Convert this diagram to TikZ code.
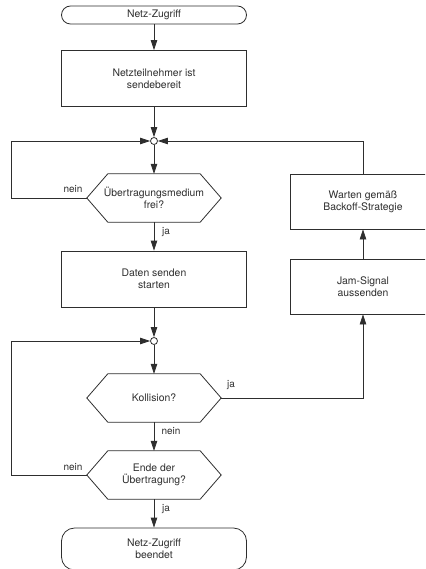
\documentclass[tikz,border=0pt]{standalone}
\usepackage{fontspec}
\setmainfont{TeX Gyre Heros}
\usetikzlibrary{arrows.meta,calc}
\definecolor{ink}{HTML}{2E2E2E}
\newcommand\hexdraw[1]{%
  \draw[line] (#1.west) -- ([xshift=21pt]#1.north west) -- ([xshift=-21pt]#1.north east)
    -- (#1.east) -- ([xshift=-21pt]#1.south east) -- ([xshift=21pt]#1.south west) -- cycle;}
\begin{document}
\begin{tikzpicture}[x=1pt,y=-1pt,
  font=\fontsize{10.4}{12.2}\selectfont, text=ink,
  line/.style={draw=ink,line width=0.8pt},
  arr/.style={line,-{Triangle[length=10pt,width=6.5pt]}},
  box/.style={line,rectangle,minimum width=185pt,minimum height=56pt,inner sep=0pt,align=center},
  sidebox/.style={line,rectangle,minimum width=146pt,minimum height=55pt,inner sep=0pt,align=center},
  term/.style={line,rectangle,rounded corners=9pt,minimum width=185pt,minimum height=18pt,inner sep=0pt,align=center},
  termb/.style={line,rectangle,rounded corners=13pt,minimum width=185pt,minimum height=42pt,inner sep=0pt,align=center},
  hexnode/.style={rectangle,minimum width=134pt,minimum height=48pt,inner sep=0pt,align=center},
  junc/.style={line,circle,fill=white,minimum size=7pt,inner sep=0pt},
  lbl/.style={inner sep=0pt,font=\fontsize{10}{12}\selectfont}]
\useasboundingbox (0,0) rectangle (425,569);
\clip (0,0) rectangle (425,569);
% nodes
\node[term] (start) at (154,15) {Netz-Zugriff};
\node[box] (b1) at (154,78.5) {Netzteilnehmer ist\\sendebereit};
\node[junc] (j1) at (154,141) {};
\node[hexnode] (h1) at (154,198) {Übertragungsmedium\\frei?};
\hexdraw{h1}
\node[box] (b2) at (154,279) {Daten senden\\starten};
\node[junc] (j2) at (154,341) {};
\node[hexnode] (h2) at (154,398) {Kollision?};
\hexdraw{h2}
\node[hexnode] (h3) at (154,475) {Ende der\\Übertragung?};
\hexdraw{h3}
\node[termb] (end) at (154,549) {Netz-Zugriff\\beendet};
\node[sidebox] (w) at (363,201.5) {Warten gemäß\\Backoff-Strategie};
\node[sidebox] (jam) at (363,286.5) {Jam-Signal\\aussenden};
\coordinate (L1) at (11,141);
\coordinate (L2) at (11,341);
% connectors
\draw[arr] (start) -- (b1);
\draw[arr] (b1) -- (j1);
\draw[arr] (j1) -- (h1.north);
\draw[arr] (h1.west) -| (L1) -- (j1.west);
\draw[arr] (w.north) |- (j1.east);
\draw[arr] (h1.south) -- (b2.north);
\draw[arr] (b2) -- (j2);
\draw[arr] (j2) -- (h2.north);
\draw[arr] (h2.east) -| (jam.south);
\draw[arr] (jam) -- (w);
\draw[arr] (h2.south) -- (h3.north);
\draw[arr] (h3.west) -| (L2) -- (j2.west);
\draw[arr] (h3.south) -- (end.north);
% labels
\node[lbl] (n1) at (73,189) {nein};
\node[lbl] (y1) at (166,232) {ja};
\node[lbl] (y2) at (231,385) {ja};
\node[lbl] (n2) at (171,431) {nein};
\node[lbl] (n3) at (73,467) {nein};
\node[lbl] (y3) at (166,509) {ja};
\end{tikzpicture}
\end{document}
